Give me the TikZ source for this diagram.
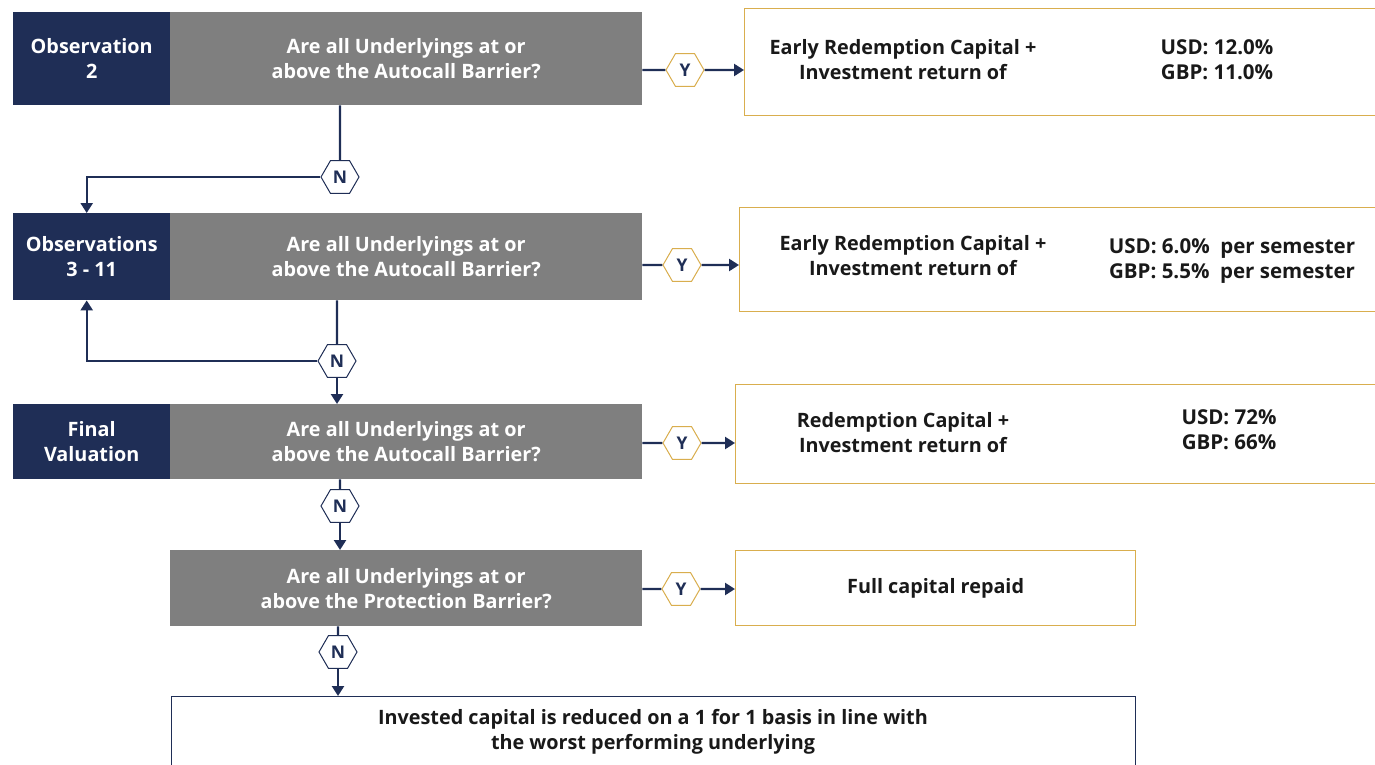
\documentclass[tikz,border=0pt]{standalone}
\usepackage{fontspec}
\setmainfont{Open Sans}
\usetikzlibrary{shapes.geometric,arrows.meta}
\definecolor{navy}{HTML}{1F2E56}
\definecolor{midgray}{HTML}{7F7F7F}
\definecolor{gold}{HTML}{D9AE4E}
\begin{document}
\begin{tikzpicture}[x=1pt,y=-1pt,
            every node/.style={font=\bfseries\fontsize{19.8}{25}\selectfont,align=center},
            obs/.style={fill=navy,text=white,anchor=north west,
                minimum width=157pt,inner sep=0pt},
            question/.style={fill=midgray,text=white,anchor=north west,
                minimum width=472pt,inner sep=0pt},
            result/.style={draw=gold,line width=1.2pt,anchor=north west,inner sep=0pt},
            answer/.style={text=black!90},
            rate/.style={answer,font=\bfseries\fontsize{20.5}{25}\selectfont},
            yes/.style={regular polygon,regular polygon sides=6,draw=gold,fill=white,
                line width=1pt,minimum size=38pt,inner sep=0pt,text=navy,
                font=\bfseries\fontsize{17.5}{17.5}\selectfont},
            no/.style={yes,draw=navy},
            link/.style={navy,line width=2.4pt},
            flow/.style={link,-{Triangle[width=12pt,length=10pt]}}]
    \useasboundingbox (0,0) rectangle (1375,765);

    % observation rows
    \node[obs,minimum height=93pt] (obs2) at (13,12) {Observation\\2};
    \node[question,minimum height=93pt] (q1) at (170,12)
        {Are all Underlyings at or\\above the Autocall Barrier?};
    \node[obs,minimum height=87pt] (obs3) at (13,213) {Observations\\3 - 11};
    \node[question,minimum height=87pt] (q2) at (170,213)
        {Are all Underlyings at or\\above the Autocall Barrier?};
    \node[obs,minimum height=75pt] (final) at (13,404) {Final\\Valuation};
    \node[question,minimum height=75pt] (q3) at (170,404)
        {Are all Underlyings at or\\above the Autocall Barrier?};
    \node[question,minimum height=76pt] (q4) at (170,550)
        {Are all Underlyings at or\\above the Protection Barrier?};

    % outcomes
    \node[result,minimum width=640pt,minimum height=107pt] (r1) at (744,8) {};
    \node[answer] (r1a) at (903,60) {Early Redemption Capital +\\Investment return of};
    \node[rate] (r1b) at (1217,60) {USD: 12.0\%\\GBP: 11.0\%};
    \node[result,minimum width=640pt,minimum height=104pt] (r2) at (739,207) {};
    \node[answer] (r2a) at (913,256) {Early Redemption Capital +\\Investment return of};
    \node[rate] (r2b) at (1232,261) {USD: 6.0\%~ per semester\\GBP: 5.5\%~ per semester};
    \node[result,minimum width=640pt,minimum height=99pt] (r3) at (735,384) {};
    \node[answer] (r3a) at (903,433) {Redemption Capital +\\Investment return of};
    \node[rate] (r3b) at (1229,430) {USD: 72\%\\GBP: 66\%};
    \node[result,answer,minimum width=400pt,minimum height=75pt] (r4) at (735,550)
        {Full capital repaid};
    \node[result,answer,draw=navy,minimum width=964pt,minimum height=80pt] (r5) at (171,696) {};
    \node[answer] (r5a) at (653,732) {Invested capital is reduced on a 1 for 1 basis in line with\\
        the worst performing underlying};

    % answers
    \node[yes] (y1) at (685,70) {Y};
    \node[yes] (y2) at (682,265) {Y};
    \node[yes] (y3) at (682,443) {Y};
    \node[yes] (y4) at (681,589) {Y};
    \node[no] (n1) at (340,177) {N};
    \node[no] (n2) at (337,361) {N};
    \node[no] (n3) at (340,506) {N};
    \node[no] (n4) at (338,652) {N};

    \draw[link] (q1.east |- y1) -- (y1);
    \draw[flow] (y1) -- (y1 -| r1.west);
    \draw[link] (q2.east |- y2) -- (y2);
    \draw[flow] (y2) -- (y2 -| r2.west);
    \draw[link] (q3.east |- y3) -- (y3);
    \draw[flow] (y3) -- (y3 -| r3.west);
    \draw[link] (q4.east |- y4) -- (y4);
    \draw[flow] (y4) -- (y4 -| r4.west);

    \draw[link] (q1.south -| n1) -- (n1);
    \draw[flow] (n1) -| ([xshift=-5pt]obs3.north);
    \draw[link] (q2.south -| n2) -- (n2);
    \draw[flow] (n2) -| ([xshift=-5pt]obs3.south);
    \draw[flow] (n2) -- (n2 |- q3.north);
    \draw[link] (q3.south -| n3) -- (n3);
    \draw[flow] (n3) -- (n3 |- q4.north);
    \draw[link] (q4.south -| n4) -- (n4);
    \draw[flow] (n4) -- (n4 |- r5.north);
\end{tikzpicture}
\end{document}
